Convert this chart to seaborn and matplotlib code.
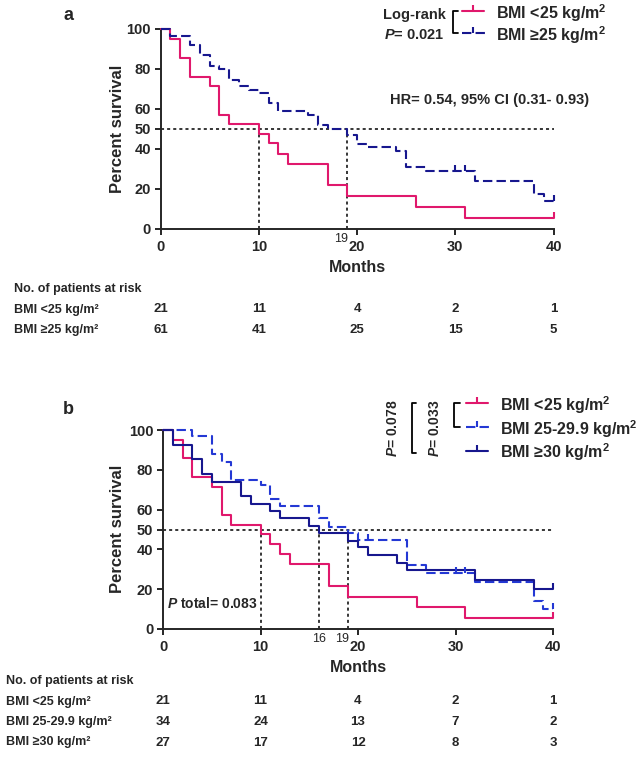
import matplotlib
matplotlib.use('Agg')
import matplotlib.pyplot as plt
import matplotlib.transforms as mtransforms
from matplotlib.path import Path
import numpy as np
import pandas as pd
import seaborn as sns

sns.set_style('ticks')
plt.rcParams['font.family'] = ['Liberation Sans', 'DejaVu Sans']
plt.rcParams['font.weight'] = 'bold'
plt.rcParams['mathtext.fontset'] = 'custom'
plt.rcParams['mathtext.it'] = 'Liberation Sans:italic:bold'
plt.rcParams['mathtext.rm'] = 'Liberation Sans:bold'
plt.rcParams['mathtext.bf'] = 'Liberation Sans:bold'

W, H = 638, 757

# Kaplan-Meier steps (months, percent survival)
lt25_months = [0, 1, 2, 3, 5, 6, 7, 10, 11, 12, 13, 17, 19, 26, 31, 40]
lt25_surv = [100, 95.2, 85.7, 76.2, 71.4, 57.1, 52.4, 47.6, 42.9, 37.6, 32.5, 21.8, 16.3, 10.9, 5.4, 5.4]
lt25_censor = [40]

ge25_months = [0, 1, 3, 4, 5, 6, 7, 8, 9, 10, 11, 12, 15, 16, 17, 19, 20, 21, 24, 25, 27, 32, 38, 39, 40]
ge25_surv = [100, 96.7, 91.8, 86.9, 81.5, 79.8, 74.5, 71.5, 69.5, 68.2, 63.2, 59.2, 57.0, 52.0, 50.0, 47.0,
             42.5, 41.2, 39.0, 31.2, 29.0, 24.2, 17.3, 14.0, 14.0]
ge25_censor = [30, 31, 40]

mid_months = [0, 3, 5, 6, 7, 10, 11, 12, 16, 17, 19, 20, 25, 27, 32, 38, 39, 40]
mid_surv = [100, 97.1, 87.8, 84.1, 74.9, 72.4, 65.2, 61.8, 55.6, 51.4, 48.0, 44.5, 32.2, 28.0, 23.6, 13.9, 10.0, 10.0]
mid_censor = [21, 30, 31, 40]

ge30_months = [0, 1, 3, 4, 5, 8, 9, 11, 12, 15, 16, 19, 20, 21, 24, 25, 32, 38, 40]
ge30_surv = [100, 92.6, 85.2, 77.8, 74.1, 66.7, 63.0, 59.3, 55.6, 51.9, 48.1, 44.4, 41.4, 37.2, 33.3, 29.6,
             24.5, 20.0, 20.0]
ge30_censor = [40]

medians_a = [10, 19]
medians_b = [10, 16, 19]

risk_months = [0, 10, 20, 30, 40]
risk_a_lt25 = [21, 11, 4, 2, 1]
risk_a_ge25 = [61, 41, 25, 15, 5]
risk_b_lt25 = [21, 11, 4, 2, 1]
risk_b_mid = [34, 24, 13, 7, 2]
risk_b_ge30 = [27, 17, 12, 8, 3]

SQ = r'$^{\mathbf{2}}$'
RED = '#e0186c'
NAVY = '#17178e'
BLUE = '#2438d4'
TICK = Path([(0, 0), (0, 1)])
DOT = (0, (2, 2))

fig = plt.figure(figsize=(W / 100, H / 100), dpi=100)

ov = fig.add_axes([0, 0, 1, 1], zorder=5)
ov.set_xlim(0, W)
ov.set_ylim(H, 0)
ov.axis('off')


def px_axes(left, top, right, bottom):
    return fig.add_axes([left / W, 1 - bottom / H, (right - left) / W, (bottom - top) / H])


def value_at(months, surv, t):
    i = np.searchsorted(months, t, side='right') - 1
    return surv[i]


def draw_km(ax, curves, medians):
    for m in medians:
        ax.plot([m, m], [0, 50], ls=DOT, color='k', lw=1.1, zorder=1)
    ax.plot([0, 40], [50, 50], ls=DOT, color='k', lw=1.1, zorder=1)

    df = pd.concat([pd.DataFrame({'group': c[0], 'month': c[1], 'survival': c[2]}) for c in curves])
    palette = {c[0]: c[4] for c in curves}
    dashes = {c[0]: (4.5, 2) if c[5] else '' for c in curves}
    sns.lineplot(data=df, x='month', y='survival', hue='group', style='group',
                 hue_order=[c[0] for c in curves], palette=palette, dashes=dashes,
                 estimator=None, drawstyle='steps-post', lw=1.5, legend=False,
                 ax=ax, clip_on=False, zorder=3)
    for name, months, surv, censor, color, dashed in curves:
        cy = [value_at(months, surv, t) for t in censor]
        ax.plot(censor, cy, ls='none', marker=TICK, ms=9, mew=1.5, color=color,
                clip_on=False, zorder=3)

    ax.set_xlim(0, 40)
    ax.set_ylim(0, 100)
    ax.set_xticks(risk_months)
    ax.set_yticks([0, 20, 40, 50, 60, 80, 100])
    ax.set_xlabel('')
    ax.set_ylabel('')
    sns.despine(ax=ax)
    for s in ['left', 'bottom']:
        ax.spines[s].set_linewidth(1.4)
    ax.tick_params(length=4, width=1.4, labelsize=10.5, pad=3)
    ax.tick_params(axis='x', pad=4)

    # small median labels under the axis (19 sits snug against the 20 tick label)
    tr = mtransforms.blended_transform_factory(ax.transData, ov.transData)
    ax_bottom = (1 - ax.get_position().y0) * H
    for m in medians[1:]:
        near_tick = min(abs(m - t) for t in risk_months) <= 1
        ov.text(m + (0.1 if near_tick else 0), ax_bottom + 4, str(m), transform=tr,
                ha='right' if near_tick else 'center', va='top',
                fontsize=9, fontweight='normal')


def risk_table(ax, top, rows):
    tr = mtransforms.blended_transform_factory(ax.transData, ov.transData)
    ov.text(rows[0][2], top, 'No. of patients at risk', ha='left', va='center', fontsize=9)
    for k, (label, counts, lx) in enumerate(rows):
        y = top + 20.5 * (k + 1)
        ov.text(lx, y, label, ha='left', va='center', fontsize=9)
        for t, n in zip(risk_months, counts):
            ov.text(t, y, str(n), transform=tr, ha='center', va='center', fontsize=9.5)


# ---- panel a
ax_a = px_axes(160.5, 29, 553.5, 229)
draw_km(ax_a, [
    ('BMI <25', lt25_months, lt25_surv, lt25_censor, RED, False),
    ('BMI >=25', ge25_months, ge25_surv, ge25_censor, NAVY, True),
], medians_a)

ov.text(68, 16, 'a', fontsize=13, ha='center', va='center')
ov.text(118, 129, 'Percent survival', rotation=90, ha='center', va='center', fontsize=12)
ov.text(357, 268, 'Months', ha='center', va='center', fontsize=11.5)
ov.text(446, 15, 'Log-rank', ha='right', va='center', fontsize=10.5)
ov.text(444, 35, r'$P$= 0.021', ha='right', va='center', fontsize=10.5)
ov.plot([458, 453, 453, 458], [11, 11, 33, 33], color='k', lw=1.3)
ov.plot([462, 484], [11, 11], color=RED, lw=1.5)
ov.plot([473], [11], marker=TICK, ms=9, mew=1.5, color=RED)
ov.plot([462, 486], [33, 33], color=NAVY, lw=1.5, dashes=(4.5, 2))
ov.plot([473], [33], marker=TICK, ms=9, mew=1.5, color=NAVY)
ov.text(496, 13, 'BMI <25 kg/m' + SQ, ha='left', va='center', fontsize=11.5)
ov.text(496, 35, 'BMI ≥25 kg/m' + SQ, ha='left', va='center', fontsize=11.5)
ov.text(390, 100, 'HR= 0.54, 95% CI (0.31- 0.93)', ha='left', va='center', fontsize=10.5)

risk_table(ax_a, 289, [
    ('BMI <25 kg/m²', risk_a_lt25, 14),
    ('BMI ≥25 kg/m²', risk_a_ge25, 14),
])

# ---- panel b
ax_b = px_axes(163, 430, 553, 629)
draw_km(ax_b, [
    ('BMI <25', lt25_months, lt25_surv, lt25_censor, RED, False),
    ('BMI 25-29.9', mid_months, mid_surv, mid_censor, BLUE, True),
    ('BMI >=30', ge30_months, ge30_surv, ge30_censor, NAVY, False),
], medians_b)

ov.text(68, 410, 'b', fontsize=13, ha='center', va='center')
ov.text(118, 529, 'Percent survival', rotation=90, ha='center', va='center', fontsize=12)
ov.text(358, 668, 'Months', ha='center', va='center', fontsize=11.5)
ov.text(167, 603, r'$P$ total= 0.083', ha='left', va='center', fontsize=10)

ov.text(393, 457, r'$P$= 0.078', rotation=90, ha='center', va='bottom', fontsize=10)
ov.text(435, 457, r'$P$= 0.033', rotation=90, ha='center', va='bottom', fontsize=10)
ov.plot([416, 412, 412, 416], [403, 403, 453, 453], color='k', lw=1.3)
ov.plot([460, 454, 454, 460], [403, 403, 427, 427], color='k', lw=1.3)
ov.plot([466, 488], [403, 403], color=RED, lw=1.5)
ov.plot([477], [403], marker=TICK, ms=9, mew=1.5, color=RED)
ov.plot([466, 490], [427, 427], color=BLUE, lw=1.5, dashes=(4.5, 2))
ov.plot([477], [427], marker=TICK, ms=9, mew=1.5, color=BLUE)
ov.plot([466, 488], [451, 451], color=NAVY, lw=1.5)
ov.plot([477], [451], marker=TICK, ms=9, mew=1.5, color=NAVY)
ov.text(500, 405, 'BMI <25 kg/m' + SQ, ha='left', va='center', fontsize=11.5)
ov.text(500, 429, 'BMI 25-29.9 kg/m' + SQ, ha='left', va='center', fontsize=11.5)
ov.text(500, 452, 'BMI ≥30 kg/m' + SQ, ha='left', va='center', fontsize=11.5)

risk_table(ax_b, 681, [
    ('BMI <25 kg/m²', risk_b_lt25, 6),
    ('BMI 25-29.9 kg/m²', risk_b_mid, 6),
    ('BMI ≥30 kg/m²', risk_b_ge30, 6),
])

fig.savefig('out.png', dpi=100)
